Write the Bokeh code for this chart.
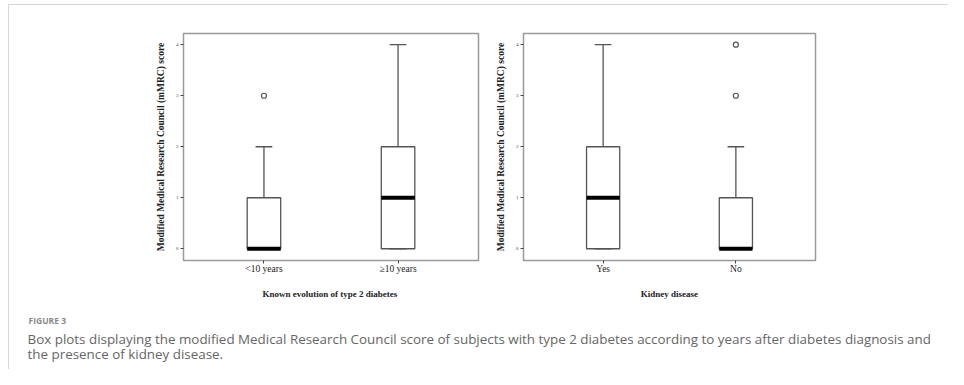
from bokeh.plotting import figure
from bokeh.models import Range1d, FixedTicker, Label, InlineStyleSheet
from bokeh.layouts import column, row
from bokeh.embed import file_html
from bokeh.resources import INLINE

# ---- data ----
left_groups = ["<10 years", "≥10 years"]
left_q1 = [0, 0]
left_median = [0, 1]
left_q3 = [1, 2]
left_low = [0, 0]
left_high = [2, 4]
left_out_group = [1]
left_out_vals = [3]

right_groups = ["Yes", "No"]
right_q1 = [0, 0]
right_median = [1, 0]
right_q3 = [2, 1]
right_low = [0, 0]
right_high = [4, 2]
right_out_group = [2, 2]
right_out_vals = [3, 4]

y_ticks = [0, 1, 2, 3, 4]
y_title = "Modified Medical Research Council (mMRC) score"
left_xtitle = "Known  evolution of type 2 diabetes"
right_xtitle = "Kidney disease"
fig_label = "FIGURE 3"
caption_1 = ("Box plots displaying the modified Medical Research Council score of subjects with type 2 diabetes "
             "according to years after diabetes diagnosis and")
caption_2 = "the presence of kidney disease."

SERIF = "Liberation Serif"
FRAME = "#9a9a9a"
BOXC = "#555555"


def boxplot(groups, q1, med, q3, low, high, og, ov, xtitle, width, bl, br):
    p = figure(width=width, height=305, output_backend="svg", toolbar_location=None,
               x_range=Range1d(0.4, 2.6), y_range=Range1d(-0.23, 4.22))
    p.min_border_left = bl
    p.min_border_right = br
    p.min_border_top = 28
    p.min_border_bottom = 50
    p.grid.visible = False
    p.outline_line_color = FRAME
    p.outline_line_width = 1.5
    p.background_fill_color = "white"
    p.border_fill_color = "white"
    xs = list(range(1, len(groups) + 1))
    bw = 0.25
    cw = 0.125
    # whiskers
    p.segment(x0=xs, y0=q3, x1=xs, y1=high, line_color=BOXC, line_width=1.3)
    p.segment(x0=xs, y0=q1, x1=xs, y1=low, line_color=BOXC, line_width=1.3)
    p.segment(x0=[x - cw / 2 for x in xs], y0=high, x1=[x + cw / 2 for x in xs], y1=high,
              line_color=BOXC, line_width=1.3)
    p.segment(x0=[x - cw / 2 for x in xs], y0=low, x1=[x + cw / 2 for x in xs], y1=low,
              line_color=BOXC, line_width=1.3)
    # boxes
    p.vbar(x=xs, width=bw, bottom=q1, top=q3, fill_color="white", line_color=BOXC, line_width=1.3)
    # medians
    p.segment(x0=[x - bw / 2 for x in xs], y0=med, x1=[x + bw / 2 for x in xs], y1=med,
              line_color="black", line_width=4)
    # outliers
    p.scatter(x=og, y=ov, marker="circle", size=5, fill_color=None, line_color=BOXC, line_width=1.2)

    ya = p.yaxis[0]
    ya.ticker = FixedTicker(ticks=y_ticks)
    ya.minor_tick_line_color = None
    ya.major_tick_in = 0
    ya.major_tick_out = 3
    ya.major_tick_line_color = "#444444"
    ya.axis_line_color = None
    ya.major_label_text_font = SERIF
    ya.major_label_text_font_size = "5px"
    ya.major_label_standoff = 2
    ya.major_label_orientation = "horizontal"
    ya.axis_label = y_title
    ya.axis_label_text_font = SERIF
    ya.axis_label_text_font_style = "bold"
    ya.axis_label_text_font_size = "9.5px"
    ya.axis_label_text_color = "#222222"
    ya.axis_label_standoff = 7

    xa = p.xaxis[0]
    xa.ticker = FixedTicker(ticks=xs)
    xa.major_label_overrides = {x: g for x, g in zip(xs, groups)}
    xa.minor_tick_line_color = None
    xa.major_tick_in = 0
    xa.major_tick_out = 3
    xa.major_tick_line_color = "#444444"
    xa.axis_line_color = None
    xa.major_label_text_font = SERIF
    xa.major_label_text_font_size = "9.5px"
    xa.major_label_text_color = "#222222"
    xa.major_label_standoff = 0
    xa.axis_label = xtitle
    xa.axis_label_text_font = SERIF
    xa.axis_label_text_font_style = "bold"
    xa.axis_label_text_font_size = "9px"
    xa.axis_label_text_color = "#222222"
    xa.axis_label_standoff = 12
    return p


p1 = boxplot(left_groups, left_q1, left_median, left_q3, left_low, left_high,
             left_out_group, left_out_vals, left_xtitle, 474, 174, 5)
p2 = boxplot(right_groups, right_q1, right_median, right_q3, right_low, right_high,
             right_out_group, right_out_vals, right_xtitle, 465, 40, 133)

cap = figure(width=939, height=59, output_backend="svg", toolbar_location=None,
             x_range=Range1d(0, 939), y_range=Range1d(59, 0))
cap.axis.visible = False
cap.grid.visible = False
cap.outline_line_color = None
cap.min_border = 0
cap.add_layout(Label(x=19, y=10, text=fig_label, text_font="Open Sans", text_font_style="bold",
                     text_font_size="8.5px", text_color="#8a8a8a", text_baseline="middle"))
cap.add_layout(Label(x=18, y=28, text=caption_1, text_font="Open Sans",
                     text_font_size="13.4px", text_color="#666666", text_baseline="middle"))
cap.add_layout(Label(x=18, y=43, text=caption_2, text_font="Open Sans",
                     text_font_size="13.4px", text_color="#666666", text_baseline="middle"))

card = InlineStyleSheet(css=":host { border-top: 1px solid #d6d6d6; border-left: 1px solid #d6d6d6; }")
layout = column(row(p1, p2), cap, margin=(4, 0, 0, 8), stylesheets=[card])
open("out.html", "w").write(file_html(layout, INLINE))
